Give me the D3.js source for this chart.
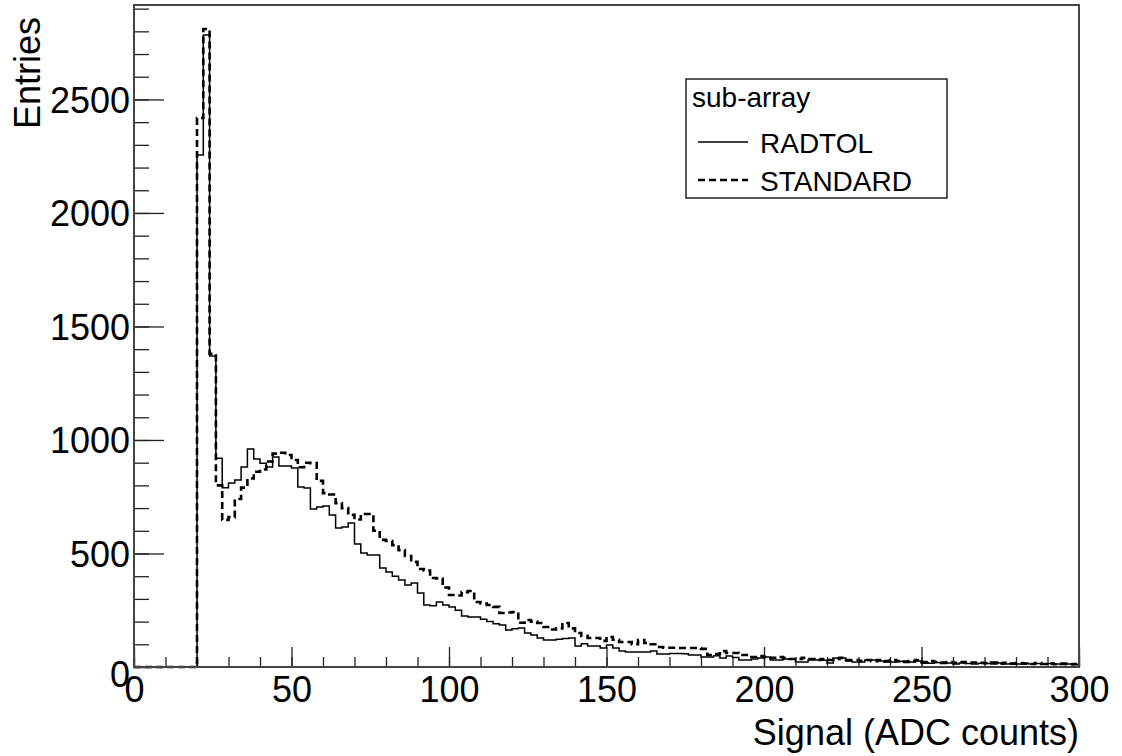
<!DOCTYPE html>
<html>
<head>
<meta charset="utf-8">
<script src="https://cdn.jsdelivr.net/npm/d3@7"></script>
<style>
  body { margin: 0; background: #fff; }
  svg text { font-family: "Liberation Sans", Arial, sans-serif; fill: #000; }
</style>
</head>
<body>
<div id="chart"></div>
<script>
// histogram: 150 bins of width 2 from 0 to 300
var binWidth = 2;
var radtol = [
  0, 0, 0, 0, 0, 0, 0, 0, 0, 0,
  2255, 2784, 1370, 920, 790, 810, 824, 881, 960, 916,
  898, 881, 925, 885, 885, 877, 793, 789, 696, 705,
  709, 670, 612, 617, 634, 542, 502, 493, 493, 436,
  418, 400, 383, 361, 370, 326, 273, 270, 286, 273,
  264, 250, 225, 220, 220, 210, 200, 190, 185, 163,
  168, 172, 150, 141, 128, 119, 119, 122, 125, 128,
  93, 102, 93, 93, 84, 97, 84, 70, 66, 66,
  66, 66, 70, 57, 57, 60, 60, 58, 53, 53,
  44, 44, 50, 40, 48, 42, 31, 31, 35, 40,
  44, 31, 31, 35, 35, 22, 22, 31, 31, 30,
  18, 40, 40, 26, 22, 22, 31, 31, 26, 22,
  22, 24, 26, 22, 26, 17, 17, 20, 15, 18,
  13, 18, 15, 13, 17, 15, 13, 18, 13, 15,
  13, 17, 13, 15, 12, 15, 13, 11, 13, 10
];
var standard = [
  0, 0, 0, 0, 0, 0, 0, 0, 0, 0,
  2418, 2810, 1380, 800, 648, 660, 740, 790, 830, 860,
  870, 905, 940, 944, 934, 912, 880, 900, 898, 820,
  766, 760, 722, 700, 670, 650, 674, 674, 600, 560,
  555, 537, 515, 489, 463, 432, 425, 392, 390, 350,
  317, 315, 330, 335, 286, 280, 273, 265, 238, 240,
  242, 195, 207, 200, 194, 176, 165, 170, 194, 170,
  150, 137, 128, 128, 115, 132, 120, 110, 110, 100,
  119, 106, 100, 88, 85, 85, 84, 84, 84, 84,
  80, 53, 57, 70, 62, 62, 53, 53, 44, 48,
  44, 40, 44, 40, 35, 35, 40, 35, 31, 35,
  31, 35, 40, 31, 31, 27, 31, 26, 31, 26,
  31, 26, 22, 26, 31, 22, 26, 22, 20, 22,
  18, 22, 18, 20, 18, 17, 20, 15, 18, 15,
  17, 15, 13, 17, 13, 15, 12, 15, 12, 13
];
var xTicks = [0, 50, 100, 150, 200, 250, 300];
var yTicks = [0, 500, 1000, 1500, 2000, 2500];
var legendTitle = "sub-array";
var seriesNames = ["RADTOL", "STANDARD"];

function drawChart() {
    var width = 1122, height = 756;
    var padL = 134, padR = 1079, padT = 5, padB = 667;

    var svg = d3.select("#chart").append("svg")
        .attr("width", width)
        .attr("height", height);

    var x = d3.scaleLinear().domain([0, 300]).range([padL, padR]);
    var y = d3.scaleLinear().domain([0, 2916]).range([padB, padT]);

    // minor ticks first
    svg.append("g")
        .attr("transform", "translate(0," + padB + ")")
        .call(d3.axisBottom(x).tickValues(d3.range(0, 301, 10)).tickSize(-10).tickFormat(""))
        .call(function (g) { g.select(".domain").remove(); })
        .selectAll("line").attr("stroke", "#222").attr("stroke-width", 1.3);

    svg.append("g")
        .attr("transform", "translate(" + padL + ",0)")
        .call(d3.axisLeft(y).tickValues(d3.range(0, 2901, 100)).tickSize(-15).tickFormat(""))
        .call(function (g) { g.select(".domain").remove(); })
        .selectAll("line").attr("stroke", "#222").attr("stroke-width", 1.3);

    // major ticks + labels
    var xAxis = svg.append("g")
        .attr("transform", "translate(0," + padB + ")")
        .call(d3.axisBottom(x).tickValues(xTicks).tickSize(-20).tickPadding(9).tickFormat(d3.format("d")))
        .call(function (g) { g.select(".domain").remove(); });
    xAxis.selectAll("line").attr("stroke", "#222").attr("stroke-width", 1.3);
    xAxis.selectAll("text").attr("font-size", 36).attr("font-family", "Liberation Sans");

    var yAxis = svg.append("g")
        .attr("transform", "translate(" + padL + ",0)")
        .call(d3.axisLeft(y).tickValues(yTicks).tickSize(-30).tickPadding(4).tickFormat(d3.format("d")))
        .call(function (g) { g.select(".domain").remove(); });
    yAxis.selectAll("line").attr("stroke", "#222").attr("stroke-width", 1.3);
    yAxis.selectAll("text").attr("font-size", 36).attr("font-family", "Liberation Sans")
        .attr("dy", function (d) { return d === 0 ? "0.55em" : "0.36em"; });

    // histograms as step outlines
    function stepPoints(counts) {
        var pts = counts.map(function (c, i) { return [i * binWidth, c]; });
        pts.push([counts.length * binWidth, counts[counts.length - 1]]);
        return pts;
    }
    var line = d3.line()
        .x(function (d) { return x(d[0]); })
        .y(function (d) { return y(d[1]); })
        .curve(d3.curveStepAfter);

    svg.append("path")
        .attr("d", line(stepPoints(standard)))
        .attr("fill", "none")
        .attr("stroke", "#000")
        .attr("stroke-width", 2.6)
        .attr("stroke-dasharray", "7,4");

    svg.append("path")
        .attr("d", line(stepPoints(radtol)))
        .attr("fill", "none")
        .attr("stroke", "#000")
        .attr("stroke-width", 1.5);

    // frame
    svg.append("rect")
        .attr("x", padL).attr("y", padT)
        .attr("width", padR - padL).attr("height", padB - padT)
        .attr("fill", "none")
        .attr("stroke", "#444")
        .attr("stroke-width", 2);

    // axis titles
    svg.append("text")
        .attr("x", padR).attr("y", 745)
        .attr("text-anchor", "end")
        .attr("font-size", 36)
        .text("Signal (ADC counts)");

    svg.append("text")
        .attr("transform", "translate(40,17) rotate(-90)")
        .attr("text-anchor", "end")
        .attr("font-size", 36)
        .text("Entries");

    // legend
    var lg = svg.append("g");
    lg.append("rect")
        .attr("x", 686).attr("y", 79)
        .attr("width", 261).attr("height", 119)
        .attr("fill", "#fff")
        .attr("stroke", "#000")
        .attr("stroke-width", 1.3);
    lg.append("text").attr("x", 692).attr("y", 107).attr("font-size", 28).text(legendTitle);

    lg.append("line").attr("x1", 698).attr("x2", 748).attr("y1", 142).attr("y2", 142)
        .attr("stroke", "#000").attr("stroke-width", 1.5);
    lg.append("text").attr("x", 760).attr("y", 153).attr("font-size", 28).text(seriesNames[0]);

    lg.append("line").attr("x1", 698).attr("x2", 748).attr("y1", 180).attr("y2", 180)
        .attr("stroke", "#000").attr("stroke-width", 2.6).attr("stroke-dasharray", "7,4");
    lg.append("text").attr("x", 760).attr("y", 191).attr("font-size", 28).text(seriesNames[1]);
}

drawChart();
</script>
</body>
</html>
